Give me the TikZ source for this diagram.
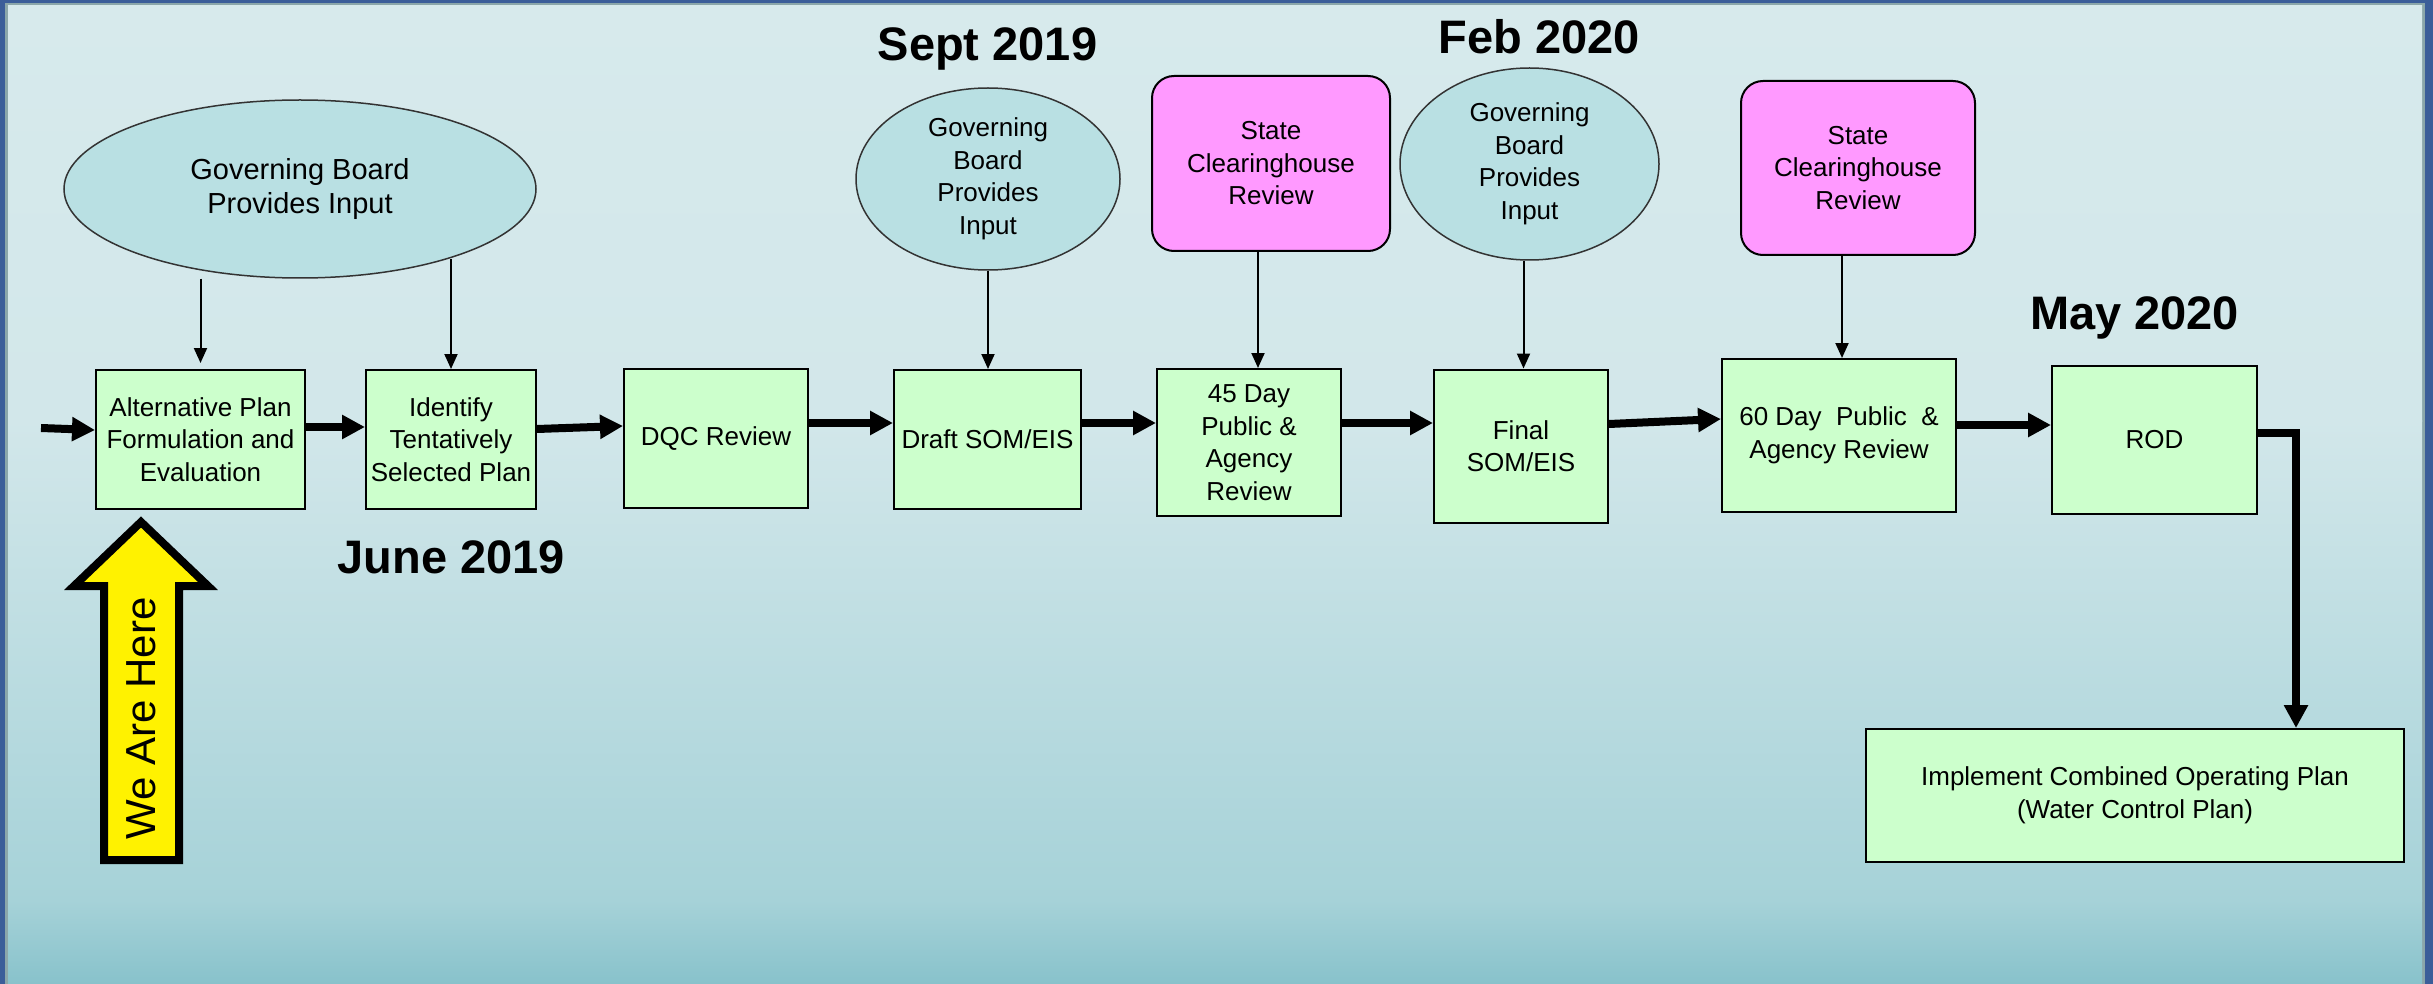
\documentclass[tikz,border=0pt]{standalone}
\usepackage{fontspec}
\setmainfont{Liberation Sans}
\usetikzlibrary{arrows.meta,shapes.geometric}
\definecolor{boxgreen}{HTML}{CCFFCC}
\definecolor{ellfill}{HTML}{B9E0E3}
\definecolor{pinkfill}{HTML}{FF99FF}
\definecolor{frameblue}{HTML}{3B5E99}
\definecolor{framegray}{HTML}{8BA7AA}
\definecolor{bgA}{HTML}{D7EAEC}
\definecolor{bgB}{HTML}{D2E7EA}
\definecolor{bgC}{HTML}{A6D2D8}
\definecolor{bgD}{HTML}{88C2CB}
\begin{document}
\begin{tikzpicture}[x=1pt,y=-1pt,
  stepbox/.style={draw=black,line width=2pt,fill=boxgreen,align=center,inner sep=2pt,
    font={\fontsize{26}{32.5}\selectfont}},
  govell/.style={ellipse,draw=black!80,line width=1.5pt,fill=ellfill,align=center,inner sep=0pt,
    font={\fontsize{26}{32.5}\selectfont}},
  pinkbox/.style={draw=black,line width=2pt,fill=pinkfill,rounded corners=22pt,align=center,inner sep=2pt,
    font={\fontsize{26}{32.5}\selectfont}},
  datelabel/.style={font={\fontsize{47}{50}\selectfont\bfseries},inner sep=0pt},
  flowarrow/.style={line width=8pt,-{Triangle[length=23pt,width=23pt]}},
  inarrow/.style={line width=2pt,-{Triangle[length=15pt,width=13pt]}}
]
\useasboundingbox (0,0) rectangle (2433,984);
% frame and background
\fill[frameblue] (0,0) rectangle (2433,984);
\fill[framegray] (5,3) rectangle (2425,984);
\shade[top color=bgA,bottom color=bgB] (8,5.5) rectangle (2422,421);
\shade[top color=bgB,bottom color=bgC] (8,420) rectangle (2422,901);
\shade[top color=bgC,bottom color=bgD] (8,900) rectangle (2422,984);

% main process boxes
\node[stepbox,minimum width=209pt,minimum height=139pt] (alt) at (200.5,439.5) {Alternative Plan\\Formulation and\\Evaluation};
\node[stepbox,minimum width=170pt,minimum height=139pt] (id) at (451,439.5) {Identify\\Tentatively\\Selected Plan};
\node[stepbox,minimum width=184pt,minimum height=139pt] (dqc) at (716,438.5) {DQC Review};
\node[stepbox,minimum width=187pt,minimum height=139pt] (draft) at (987.5,439.5) {Draft SOM/EIS};
\node[stepbox,minimum width=184pt,minimum height=147pt] (b45) at (1249,442.5) {45 Day\\Public \&\\Agency\\Review};
\node[stepbox,minimum width=174pt,minimum height=153pt] (final) at (1521,446) {Final\\SOM/EIS};
\node[stepbox,minimum width=234pt,minimum height=153pt] (b60) at (1839,435.5) {60 Day\ \ Public\ \ \&\\Agency Review};
\node[stepbox,minimum width=205pt,minimum height=148pt] (rod) at (2154.5,440) {ROD};
\node[stepbox,minimum width=538pt,minimum height=133pt] (impl) at (2135,795.5) {Implement Combined Operating Plan\\(Water Control Plan)};

% inputs
\node[govell,minimum width=472pt,minimum height=178pt,font={\fontsize{29}{34.5}\selectfont}] (ell1) at (300,189) {Governing Board\\Provides Input};
\node[govell,minimum width=264pt,minimum height=182pt] (gov2) at (988,179) {Governing\\Board\\Provides\\Input};
\node[govell,minimum width=259pt,minimum height=192pt] (gov3) at (1529.5,164) {Governing\\Board\\Provides\\Input};
\node[pinkbox,minimum width=238pt,minimum height=175pt] (pink1) at (1271,163.5) {State\\Clearinghouse\\Review};
\node[pinkbox,minimum width=234pt,minimum height=174pt] (pink2) at (1858,168) {State\\Clearinghouse\\Review};

% dates
\node[datelabel,anchor=base] (june) at (451.5,573) {June 2019};
\node[datelabel,anchor=base] (sept) at (987.5,61) {Sept 2019};
\node[datelabel,anchor=base] (feb) at (1539.5,54) {Feb 2020};
\node[datelabel,anchor=base] (may) at (2134.5,329) {May 2020};

% we are here arrow
\draw[fill=yellow,line width=8pt,line join=miter] (141,522) -- (208,586) -- (179,586) -- (179,860) -- (104,860) -- (104,586) -- (74,586) -- cycle;
\node[rotate=90,inner sep=0pt,font={\fontsize{42}{46}\selectfont}] (here) at (141.5,718.5) {We Are Here};

% flow arrows
\coordinate (start) at (41,428);
\draw[flowarrow] (start) -- ([yshift=9.5pt]alt.west);
\draw[flowarrow] ([yshift=12.5pt]alt.east) -- ([yshift=12.5pt]id.west);
\draw[flowarrow] ([yshift=10.5pt]id.east) -- ([yshift=12.5pt]dqc.west);
\draw[flowarrow] ([yshift=15.5pt]dqc.east) -- ([yshift=16.5pt]draft.west);
\draw[flowarrow] ([yshift=16.5pt]draft.east) -- ([yshift=19.5pt]b45.west);
\draw[flowarrow] ([yshift=19.5pt]b45.east) -- ([yshift=23pt]final.west);
\draw[flowarrow] ([yshift=22pt]final.east) -- ([yshift=16.5pt]b60.west);
\draw[flowarrow] ([yshift=10.5pt]b60.east) -- ([yshift=15pt]rod.west);
\draw[flowarrow] ([yshift=7pt]rod.east) -| ([xshift=161pt]impl.north);

% input arrows
\coordinate (e1b) at ([yshift=20pt]ell1.south);
\draw[inarrow] (ell1.south -| alt.north) -- ([yshift=6pt]alt.north);
\draw[inarrow] (e1b -| id.north) -- (id.north);
\draw[inarrow] (gov2.south) -- (gov2.south |- draft.north);
\draw[inarrow] ([xshift=-13pt]pink1.south) -- ([xshift=-13pt]pink1.south |- b45.north);
\draw[inarrow] ([xshift=-6pt]gov3.south) -- ([xshift=-6pt]gov3.south |- final.north);
\draw[inarrow] ([xshift=-16pt]pink2.south) -- ([xshift=-16pt]pink2.south |- b60.north);
\end{tikzpicture}
\end{document}
